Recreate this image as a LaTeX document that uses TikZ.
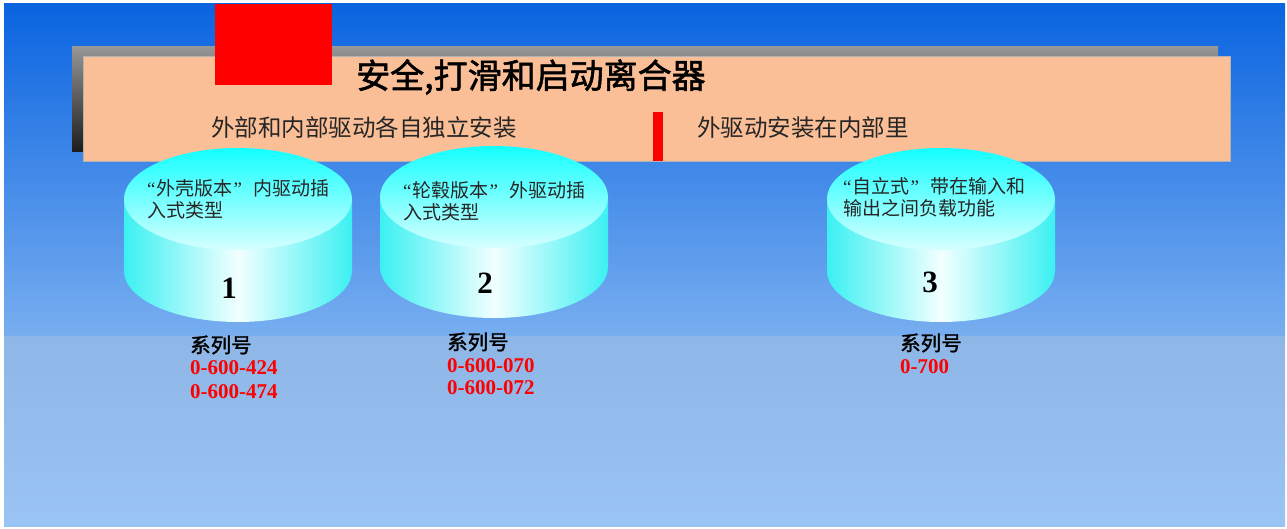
\documentclass[tikz,border=0pt]{standalone}
\usepackage{fontspec}
\newfontfamily\cjk{Noto Sans CJK SC}
\newfontfamily\cjkbold{Noto Sans CJK SC}[FakeBold=1.6]
\newfontfamily\numf{Liberation Serif}
\newcommand{\myopenq}{{\numf“}\hspace{1pt}}
\newcommand{\mycloseq}{\hspace{1pt}{\numf”}\hspace{11pt}}
\definecolor{bgtop}{RGB}{10,100,224}
\definecolor{bgmid}{RGB}{120,174,240}
\definecolor{bglowtop}{RGB}{142,182,230}
\definecolor{bglowbot}{RGB}{154,196,244}
\definecolor{peach}{RGB}{251,191,152}
\definecolor{shadowtop}{RGB}{150,150,150}
\definecolor{shadowbot}{RGB}{28,28,28}
\definecolor{cyledge}{RGB}{60,240,242}
\definecolor{cylmid}{RGB}{242,255,255}
\definecolor{cyltopc}{RGB}{20,255,255}
\definecolor{cylbotc}{RGB}{215,255,255}
\definecolor{redmark}{RGB}{255,0,0}
\tikzset{
  cylside/.style={left color=cyledge,right color=cyledge,middle color=cylmid},
  cyltop/.style={top color=cyltopc,bottom color=cylbotc},
  headtext/.style={anchor=west,inner sep=0pt,font=\cjkbold\fontsize{34}{36}\selectfont},
  subtext/.style={anchor=west,inner sep=0pt,text=black!85,font=\cjk\fontsize{23.5}{26}\selectfont},
  cyltext/.style={anchor=west,inner sep=0pt,text=black!85,font=\cjk\fontsize{19}{22}\selectfont},
  numtext/.style={anchor=center,inner sep=0pt,font=\numf\bfseries\fontsize{31}{34}\selectfont},
  serlabel/.style={anchor=west,inner sep=0pt,font=\cjkbold\fontsize{20.5}{23}\selectfont},
  sernum/.style={anchor=west,inner sep=0pt,text=redmark,font=\numf\bfseries\fontsize{21}{23}\selectfont}
}
\newcommand{\cylinderdraw}[3]{%
  \path[cylside] ({#1-114},#2) -- ({#1-114},#3) arc[start angle=180,end angle=360,x radius=114pt,y radius=51pt] -- ({#1+114},#2) -- cycle;
  \path[cyltop] (#1,#2) ellipse[x radius=114pt,y radius=51pt];
}
\begin{document}
\begin{tikzpicture}[x=1pt,y=1pt]
\useasboundingbox (0,0) rectangle (1287,528);
\fill[white] (0,0) rectangle (1287,528);
% background
\fill[top color=bgtop,bottom color=bgmid] (4,192) rectangle (1285,524);
\fill[top color=bglowtop,bottom color=bglowbot] (4,2) rectangle (1285,192);
% header band
\fill[top color=shadowtop,bottom color=shadowbot] (72,376) rectangle (1218,481);
\fill[peach,draw=black!30,line width=0.6pt] (83,367) rectangle (1230,472);
\fill[redmark] (215,443) rectangle (332,524);
\fill[redmark] (653,367) rectangle (663,416);
\node[headtext] (title) at (356,451) {安全,打滑和启动离合器};
\node[subtext] (sub1) at (211,400) {外部和内部驱动各自独立安装};
\node[subtext] (sub2) at (697,400) {外驱动安装在内部里};
% cylinders
\cylinderdraw{238}{329}{257}
\cylinderdraw{494}{331}{261}
\cylinderdraw{941}{329}{257}
\node[cyltext] (c1a) at (147,340) {\myopenq 外壳版本\mycloseq 内驱动插};
\node[cyltext] (c1b) at (147,318) {入式类型};
\node[cyltext] (c2a) at (403,338) {\myopenq 轮毂版本\mycloseq 外驱动插};
\node[cyltext] (c2b) at (403,316) {入式类型};
\node[cyltext] (c3a) at (843,342) {\myopenq 自立式\mycloseq 带在输入和};
\node[cyltext] (c3b) at (843,320) {输出之间负载功能};
\node[numtext] (n1) at (229,240) {1};
\node[numtext] (n2) at (485,245) {2};
\node[numtext] (n3) at (930,246) {3};
% series
\node[serlabel] (s1) at (190,183) {系列号};
\node[sernum] (s1a) at (190,160) {0-600-424};
\node[sernum] (s1b) at (190,136) {0-600-474};
\node[serlabel] (s2) at (447,186) {系列号};
\node[sernum] (s2a) at (447,162) {0-600-070};
\node[sernum] (s2b) at (447,140) {0-600-072};
\node[serlabel] (s3) at (900,185) {系列号};
\node[sernum] (s3a) at (900,161) {0-700};
\end{tikzpicture}
\end{document}
